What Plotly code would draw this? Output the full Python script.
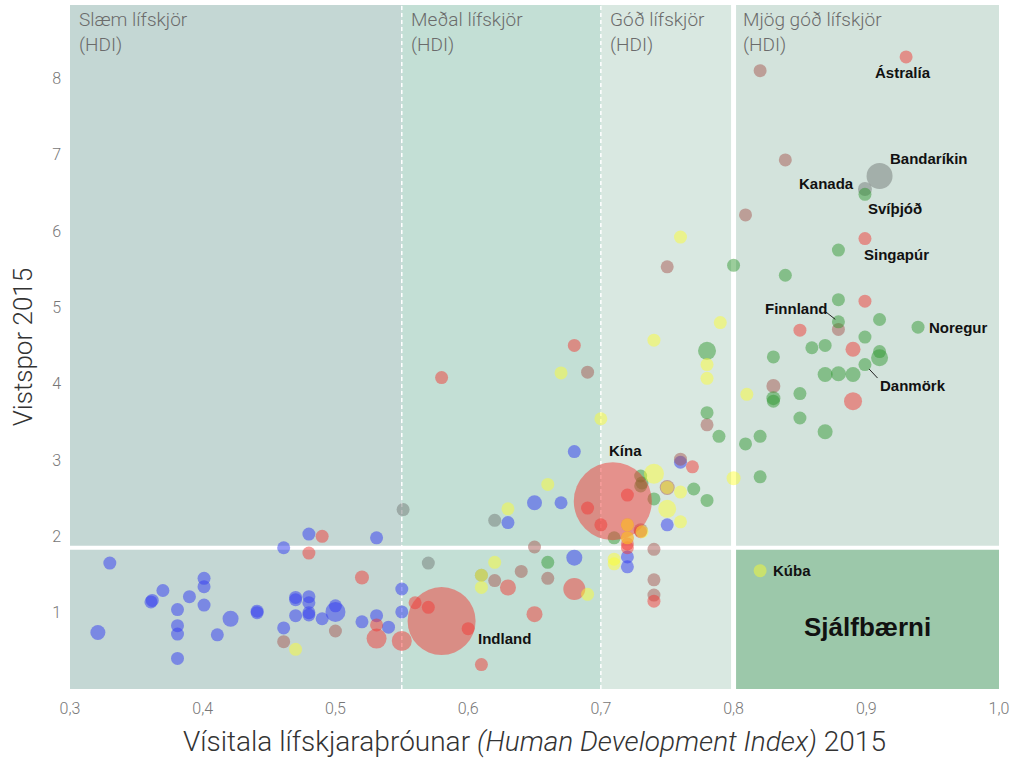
import plotly.graph_objects as go

# ---------------- data (HDI, ecological footprint, bubble size) ----------------
africa_hdi = [0.480, 0.531, 0.461, 0.330, 0.401, 0.401, 0.370, 0.390, 0.361, 0.362, 0.381, 0.401, 0.421,
              0.441, 0.441, 0.381, 0.381, 0.321, 0.411, 0.381, 0.461, 0.470, 0.470, 0.470, 0.480, 0.480,
              0.480, 0.480, 0.490, 0.500, 0.500, 0.520, 0.531, 0.540, 0.550, 0.550, 0.680, 0.650, 0.670,
              0.630, 0.760, 0.750, 0.720, 0.720, 0.680]
africa_fp = [2.03, 1.98, 1.85, 1.65, 1.45, 1.34, 1.29, 1.21, 1.14, 1.16, 1.04, 1.10, 0.92,
             1.02, 1.00, 0.83, 0.72, 0.74, 0.71, 0.40, 0.80, 1.17, 1.20, 0.96, 1.21, 1.13,
             0.97, 1.00, 0.92, 1.01, 1.09, 0.88, 0.96, 0.81, 1.31, 1.01, 3.11, 2.44, 2.44,
             2.18, 2.97, 2.15, 1.73, 1.60, 1.72]
africa_sz = [13, 13, 13, 13, 13, 13, 13, 13, 13, 13, 13, 13, 16,
             13, 13, 13, 13, 15, 13, 13, 13, 13, 13, 13, 13, 13,
             13, 13, 13, 20, 13, 13, 13, 13, 13, 13, 13, 15, 13,
             13, 13, 13, 13, 13, 16]

asia_hdi = [0.490, 0.480, 0.520, 0.531, 0.531, 0.550, 0.560, 0.570, 0.580, 0.600, 0.610, 0.630, 0.650,
            0.680, 0.709, 0.690, 0.720, 0.700, 0.769, 0.720, 0.730, 0.720, 0.720, 0.720, 0.740, 0.580,
            0.680, 0.930, 0.899, 0.899, 0.850, 0.890, 0.890]
asia_fp = [2.00, 1.78, 1.46, 0.84, 0.66, 0.63, 1.13, 1.07, 0.89, 0.79, 0.32, 1.33, 0.98,
           1.31, 2.46, 2.37, 2.54, 2.15, 2.91, 2.15, 2.06, 1.98, 1.90, 1.85, 1.15, 4.08,
           4.50, 8.28, 5.90, 5.08, 4.70, 4.45, 3.77]
asia_sz = [13, 13, 14, 13, 20, 20, 13, 13, 68, 13, 13, 16, 16,
           22, 78, 13, 13, 13, 13, 13, 13, 13, 13, 13, 13, 13,
           13, 13, 13, 13, 13, 15, 18]

mideast_hdi = [0.461, 0.500, 0.650, 0.620, 0.640, 0.660, 0.740, 0.740, 0.740, 0.760, 0.750, 0.730,
               0.690, 0.750, 0.780, 0.820, 0.839, 0.809, 0.879, 0.830]
mideast_fp = [0.62, 0.76, 1.86, 1.42, 1.54, 1.45, 1.83, 1.43, 1.23, 3.01, 2.64, 2.08,
              4.15, 5.53, 3.46, 8.10, 6.93, 6.21, 4.71, 3.97]
mideast_sz = [13, 13, 13, 13, 13, 13, 13, 13, 13, 13, 15, 14,
              13, 13, 13, 13, 13, 13, 13, 14]

namer_hdi = [0.551, 0.620, 0.570, 0.610, 0.910, 0.899]
namer_fp = [2.35, 2.21, 1.65, 1.49, 6.72, 6.55]
namer_sz = [13, 13, 13, 13, 26, 14]

europe_hdi = [0.730, 0.730, 0.731, 0.740, 0.770, 0.780, 0.789, 0.809, 0.710, 0.660, 0.780, 0.780,
              0.800, 0.839, 0.879, 0.899, 0.879, 0.879, 0.910, 0.939, 0.899, 0.859, 0.869, 0.910,
              0.910, 0.830, 0.869, 0.879, 0.890, 0.899, 0.830, 0.830, 0.850, 0.850, 0.869, 0.820,
              0.820]
europe_fp = [2.79, 2.66, 2.70, 2.49, 2.62, 2.47, 3.31, 3.21, 1.98, 1.66, 4.43, 3.62,
             5.55, 5.42, 5.75, 6.48, 5.10, 4.81, 4.84, 4.74, 4.61, 4.47, 4.50, 4.42,
             4.34, 4.35, 4.12, 4.13, 4.12, 4.25, 3.81, 3.77, 3.87, 3.55, 3.37, 3.31,
             2.78]
europe_sz = [13, 13, 13, 13, 13, 13, 13, 13, 13, 13, 18, 13,
             13, 13, 13, 13, 13, 13, 13, 13, 13, 13, 13, 13,
             17, 13, 15, 15, 15, 13, 14, 13, 13, 13, 15, 13,
             13]

latam_hdi = [0.470, 0.660, 0.630, 0.740, 0.800, 0.750, 0.760, 0.750, 0.760, 0.720, 0.720, 0.710,
             0.710, 0.620, 0.610, 0.610, 0.690, 0.670, 0.700, 0.740, 0.760, 0.790, 0.780, 0.780,
             0.810, 0.820, 0.731]
latam_fp = [0.52, 2.68, 2.36, 2.82, 2.76, 2.64, 2.58, 2.36, 2.19, 2.15, 1.98, 1.70,
            1.64, 1.66, 1.49, 1.33, 1.24, 4.14, 3.54, 4.57, 5.92, 4.80, 4.25, 4.07,
            3.86, 1.55, 2.06]
latam_sz = [13, 13, 13, 20, 14, 13, 13, 18, 13, 13, 13, 13,
            13, 13, 13, 13, 13, 13, 13, 13, 13, 13, 13, 13,
            13, 13, 13]

x_ticks = [0.3, 0.4, 0.5, 0.6, 0.7, 0.8, 0.9, 1.0]
x_ticktext = ["0,3", "0,4", "0,5", "0,6", "0,7", "0,8", "0,9", "1,0"]
y_ticks = [1, 2, 3, 4, 5, 6, 7, 8]

hdi_bands = [0.3, 0.55, 0.7, 0.8, 1.0]
band_names = ["Slæm lífskjör<br>(HDI)", "Meðal lífskjör<br>(HDI)", "Góð lífskjör<br>(HDI)",
              "Mjög góð lífskjör<br>(HDI)"]
biocapacity = 1.85
y_max = 8.96

labels = [  # (text, x, y, xanchor)
    ("Ástralía", 0.928, 8.07, "center"),
    ("Bandaríkin", 0.916, 6.95, "left"),
    ("Kanada", 0.892, 6.62, "right"),
    ("Svíþjóð", 0.900, 6.30, "left"),
    ("Singapúr", 0.897, 5.69, "left"),
    ("Finnland", 0.873, 4.99, "right"),
    ("Noregur", 0.946, 4.73, "left"),
    ("Danmörk", 0.909, 3.98, "left"),
    ("Kína", 0.705, 3.13, "left"),
    ("Indland", 0.606, 0.66, "left"),
    ("Kúba", 0.828, 1.55, "left"),
]

# ---------------- figure ----------------
fig = go.Figure()

groups = [
    (africa_hdi, africa_fp, africa_sz, "rgba(55,65,240,0.75)"),
    (mideast_hdi, mideast_fp, mideast_sz, "rgba(165,85,80,0.7)"),
    (namer_hdi, namer_fp, namer_sz, "rgba(115,120,118,0.7)"),
    (europe_hdi, europe_fp, europe_sz, "rgba(45,150,45,0.68)"),
    (asia_hdi, asia_fp, asia_sz, "rgba(240,55,50,0.7)"),
    (latam_hdi, latam_fp, latam_sz, "rgba(255,255,40,0.65)"),
]
for xs, ys, ss, col in groups:
    fig.add_trace(go.Scatter(
        x=xs, y=ys, mode="markers",
        marker=dict(size=ss, sizemode="diameter", color=col, line=dict(width=0)),
        showlegend=False, hoverinfo="x+y",
    ))

band_colors = ["#c4d7d4", "#c3dfd5", "#d9e8e1", "#d3e3dc"]
shapes = []
for i in range(4):
    shapes.append(dict(type="rect", xref="x", yref="y", x0=hdi_bands[i], x1=hdi_bands[i + 1],
                       y0=0, y1=y_max, fillcolor=band_colors[i], line=dict(width=0), layer="below"))
shapes.append(dict(type="rect", xref="x", yref="y", x0=0.8, x1=1.0, y0=0, y1=biocapacity,
                   fillcolor="#9cc8aa", line=dict(width=0), layer="below"))
shapes.append(dict(type="line", xref="x", yref="y", x0=0.3, x1=1.0, y0=biocapacity, y1=biocapacity,
                   line=dict(color="white", width=4), layer="below"))
shapes.append(dict(type="line", xref="x", yref="y", x0=0.8, x1=0.8, y0=0, y1=y_max,
                   line=dict(color="white", width=5), layer="below"))
for xv in (0.55, 0.7):
    shapes.append(dict(type="line", xref="x", yref="y", x0=xv, x1=xv, y0=0, y1=y_max,
                       line=dict(color="white", width=1.5, dash="4px,3px"), layer="below"))

annotations = []
for i in range(4):
    annotations.append(dict(x=hdi_bands[i], y=y_max, xref="x", yref="y", text=band_names[i],
                            showarrow=False, xanchor="left", yanchor="top", align="left",
                            xshift=7, yshift=-1,
                            font=dict(family="Roboto", size=19, color="#6b6b6b", weight=300)))
for txt, xv, yv, xa in labels:
    annotations.append(dict(x=xv, y=yv, xref="x", yref="y", text=txt, showarrow=False,
                            xanchor=xa, yanchor="middle",
                            font=dict(family="Liberation Sans", size=15, color="#111111", weight="bold")))
annotations.append(dict(x=0.901, y=0.81, xref="x", yref="y", text="Sjálfbærni", showarrow=False,
                        xanchor="center", yanchor="middle",
                        font=dict(family="Liberation Sans", size=26, color="#111111", weight="bold")))
# leader lines
annotations.append(dict(x=0.879, y=4.81, xref="x", yref="y", text="", showarrow=True, arrowhead=0,
                        arrowwidth=1, arrowcolor="#222", ax=-14, ay=-11, standoff=4))
annotations.append(dict(x=0.899, y=4.25, xref="x", yref="y", text="", showarrow=True, arrowhead=0,
                        arrowwidth=1, arrowcolor="#222", ax=14, ay=15, standoff=6))

fig.update_layout(
    width=1023, height=762,
    margin=dict(l=70, r=24, t=5, b=73),
    paper_bgcolor="white", plot_bgcolor="white",
    shapes=shapes, annotations=annotations,
    xaxis=dict(range=[0.3, 1.0], tickvals=x_ticks, ticktext=x_ticktext, showgrid=False,
               zeroline=False, showline=False, ticks="", ticklabelstandoff=8, automargin=False,
               tickfont=dict(family="Roboto", size=16, color="#777777", weight=300),
               title=dict(text="Vísitala lífskjaraþróunar <i>(Human Development Index)</i> 2015",
                          font=dict(family="Roboto", size=28, color="#333333", weight=300),
                          standoff=14)),
    yaxis=dict(range=[0, y_max], tickvals=y_ticks, showgrid=False, zeroline=False,
               showline=False, ticks="", ticklabelstandoff=8, automargin=False,
               tickfont=dict(family="Roboto", size=16, color="#777777", weight=300),
               title=dict(text="Vistspor 2015",
                          font=dict(family="Roboto", size=26, color="#333333", weight=300),
                          standoff=12)),
)

fig.write_html("out.html", config={"displayModeBar": False},
               post_script="document.body.style.margin='0';")
